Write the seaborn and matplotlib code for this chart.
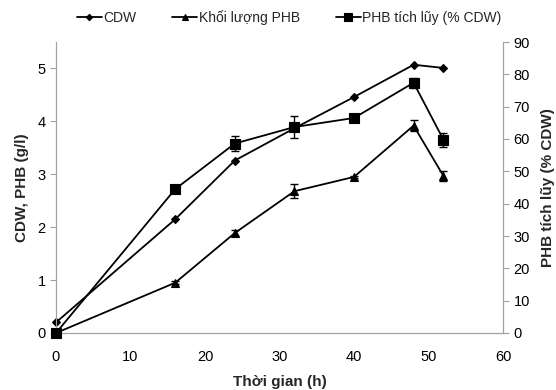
import matplotlib
matplotlib.use("Agg")
import matplotlib.pyplot as plt
import seaborn as sns
import pandas as pd

sns.set_style("white")
plt.rcParams["font.family"] = ["Liberation Sans", "DejaVu Sans"]

# Data
time_h = [0, 16, 24, 32, 40, 48, 52]
cdw = [0.2, 2.15, 3.26, 3.87, 4.46, 5.07, 5.01]
phb_mass = [0.0, 0.95, 1.89, 2.68, 2.95, 3.92, 2.97]
phb_mass_err = [0.0, 0.03, 0.05, 0.13, 0.02, 0.10, 0.09]
phb_pct = [0.0, 44.5, 58.6, 63.7, 66.5, 77.4, 59.8]
phb_pct_err = [0.0, 1.0, 2.2, 3.3, 0.5, 1.6, 2.2]

df = pd.DataFrame({"t": time_h, "cdw": cdw, "mass": phb_mass, "pct": phb_pct})

fig = plt.figure(figsize=(5.56, 3.9), dpi=100)
ax = fig.add_axes([56 / 556, 1 - 333 / 390, (503 - 56) / 556, (333 - 42) / 390])
ax2 = ax.twinx()

line_kw = dict(color="black", linewidth=1.3, markeredgecolor="black",
               markerfacecolor="black", markeredgewidth=0.8, clip_on=False)
sns.lineplot(data=df, x="t", y="cdw", ax=ax, marker="D", markersize=4,
             label="CDW", legend=False, zorder=3, **line_kw)
sns.lineplot(data=df, x="t", y="mass", ax=ax, marker="^", markersize=6,
             label="Khối lượng PHB", legend=False, zorder=3, **line_kw)
ax.errorbar(time_h, phb_mass, yerr=phb_mass_err, fmt="none", ecolor="black",
            elinewidth=1, capsize=3, clip_on=False)
sns.lineplot(data=df, x="t", y="pct", ax=ax2, marker="s", markersize=6.5,
             label="PHB tích lũy (% CDW)", legend=False, zorder=3, **line_kw)
ax2.errorbar(time_h, phb_pct, yerr=phb_pct_err, fmt="none", ecolor="black",
             elinewidth=1, capsize=3, clip_on=False)

ax.set_xlim(0, 60)
ax.set_ylim(0, 5.5)
ax2.set_ylim(0, 90)
ax.set_xticks(range(0, 61, 10))
ax.set_yticks(range(0, 6))
ax2.set_yticks(range(0, 91, 10))

for a in (ax, ax2):
    for side in ("left", "right", "bottom"):
        a.spines[side].set_visible(True)
        a.spines[side].set_color("#a0a0a0")
        a.spines[side].set_linewidth(0.8)
    a.spines["top"].set_visible(False)
    a.tick_params(axis="both", direction="out", length=4, width=0.8,
                  color="#a0a0a0", labelsize=10.5, labelcolor="black")
ax.tick_params(axis="x", pad=8)

ax.set_xlabel("Thời gian (h)", fontsize=11, fontweight="bold", labelpad=8)
ax.set_ylabel("CDW, PHB (g/l)", fontsize=11, fontweight="bold", labelpad=6)
ax2.set_ylabel("PHB tích lũy (% CDW)", fontsize=11, fontweight="bold", labelpad=8)

h1, l1 = ax.get_legend_handles_labels()
h2, l2 = ax2.get_legend_handles_labels()
fig.legend(h1 + h2, l1 + l2, loc="center", bbox_to_anchor=(0.52, 0.955), ncol=3,
           frameon=False, fontsize=10, handlelength=1.8, handletextpad=0.1,
           columnspacing=2.6, markerscale=0.8)

fig.savefig("out.png", dpi=100)
